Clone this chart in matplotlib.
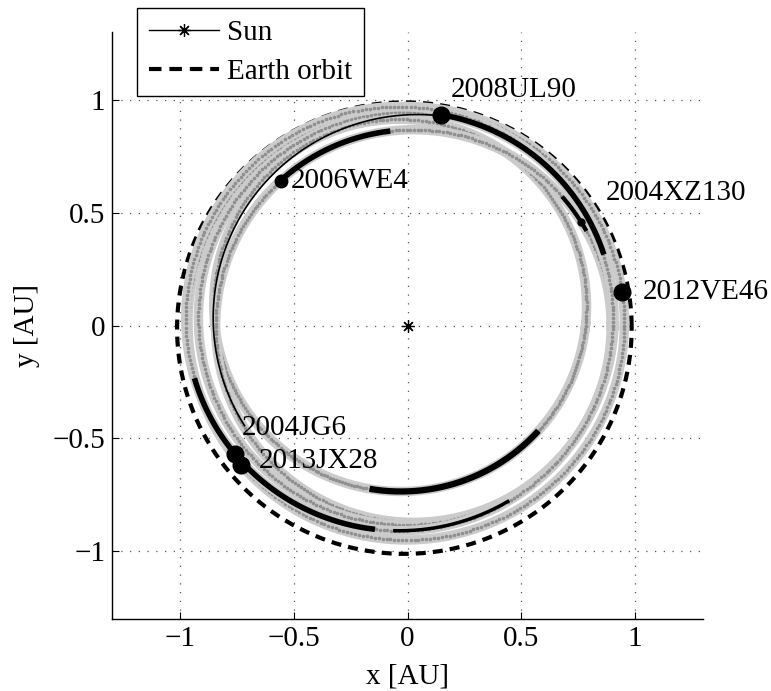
import numpy as np
import matplotlib
matplotlib.use("Agg")
import matplotlib.pyplot as plt
from matplotlib.lines import Line2D

plt.rcParams['font.family'] = ['Liberation Serif', 'DejaVu Serif']

# ---------------- data ----------------
# Earth orbit elements (semi-major axis [AU], eccentricity, perihelion longitude [deg])
earth_a, earth_e, earth_w = 1.0, 0.018, 40.0

# tracks (orbital elements); track_grey marks which are drawn as grey dotted bands
track_a = [0.825, 0.870, 0.915, 0.960, 0.940, 0.899]
track_e = [0.115, 0.030, 0.035, 0.012, 0.050, 0.063]
track_w = [-70.0, 175.0, -80.0, -60.0, -40.0, -140.0]
track_grey = [True, True, True, True, True, False]

# black segments on the tracks (true longitude range, deg)
seg_track = [1, 0, 2, 5, 4, 4, 1]
seg_start = [95, -103, 20, 81, 194, 266, 28]
seg_end = [131, -39, 81, 212, 261, 300, 40]
seg_width = [4.0, 4.5, 4.0, 1.2, 4.0, 2.5, 3.0]

# asteroid positions
names = ['2008UL90', '2006WE4', '2004XZ130', '2012VE46', '2004JG6', '2013JX28']
dot_track = [2, 1, 1, 3, 4, 3]
dot_theta = [81, 131, 31, 9, 217, 220]
dot_size = [12, 9, 5, 12, 12, 12]
label_x = [0.19, -0.515, 0.87, 1.035, -0.73, -0.655]
label_y = [1.045, 0.64, 0.585, 0.15, -0.455, -0.60]

ticks = [-1, -0.5, 0, 0.5, 1]
tick_labels = ['\u22121', '\u22120.5', '0', '0.5', '1']

FS = 21


def orbit_xy(a, e, w, th):
    t = np.radians(th)
    r = a * (1 - e ** 2) / (1 + e * np.cos(t - np.radians(w)))
    return r * np.cos(t), r * np.sin(t)


# ---------------- figure ----------------
fig = plt.figure(figsize=(7.71, 6.91), dpi=100)
ax = fig.add_axes([112 / 771, 72 / 691, 591 / 771, 587 / 691])

ax.set_xlim(-1.3, 1.3)
ax.set_ylim(-1.3, 1.3)
ax.set_xticks(ticks)
ax.set_xticklabels(tick_labels)
ax.set_yticks(ticks)
ax.set_yticklabels(tick_labels)
ax.tick_params(direction='in', length=5, width=0.8, labelsize=FS, pad=5,
               top=False, right=False)
for s in ['top', 'right']:
    ax.spines[s].set_visible(False)
for s in ['left', 'bottom']:
    ax.spines[s].set_linewidth(1.0)
ax.grid(True, linestyle=(0, (1, 6)), color='#555555', linewidth=0.9)
ax.set_axisbelow(True)

ax.set_xlabel('x [AU]', fontsize=FS, labelpad=8)
ax.set_ylabel('y [AU]', fontsize=FS, labelpad=9)

th_full = np.linspace(0, 360, 721)

# Earth orbit
ex, ey = orbit_xy(earth_a, earth_e, earth_w, th_full)
ax.plot(ex, ey, color='black', lw=3, linestyle=(0, (2.4, 1.7)), zorder=2)

# grey tracks
th_dots = np.linspace(0, 360, 340)
for a, e, w, g in zip(track_a, track_e, track_w, track_grey):
    if not g:
        continue
    gx, gy = orbit_xy(a, e, w, th_full)
    ax.plot(gx, gy, color='#cbcbcb', lw=6.8, zorder=3)
    dx, dy = orbit_xy(a, e, w, th_dots)
    ax.plot(dx, dy, linestyle='none', marker='o', markersize=2.6,
            markerfacecolor='#8f8f8f', markeredgewidth=0, zorder=3)

# black segments
for ti, s0, s1, lw in zip(seg_track, seg_start, seg_end, seg_width):
    th = np.linspace(s0, s1, 200)
    bx, by = orbit_xy(track_a[ti], track_e[ti], track_w[ti], th)
    ax.plot(bx, by, color='black', lw=lw, solid_capstyle='butt', zorder=4)

# asteroid dots and labels
for name, ti, th, ms, lx, ly in zip(names, dot_track, dot_theta, dot_size,
                                     label_x, label_y):
    px, py = orbit_xy(track_a[ti], track_e[ti], track_w[ti], np.array([th]))
    ax.plot(px, py, marker='o', color='black', markersize=ms, zorder=5)
    ax.text(lx, ly, name, fontsize=FS, ha='left', va='center', zorder=6)

# Sun
ax.plot([0], [0], color='black', marker=(8, 2, 0), markersize=9,
        markeredgewidth=0.9, lw=1, zorder=5)

handles = [
    Line2D([0], [0], color='black', lw=1, marker=(8, 2, 0), markersize=9,
           markeredgewidth=0.9),
    Line2D([0], [0], color='black', lw=3, linestyle=(0, (3.0, 1.9))),
]
leg = fig.legend(handles, ['Sun', 'Earth orbit'], loc='upper left',
                 bbox_to_anchor=(137 / 771, 1 - 8 / 691), fontsize=FS,
                 frameon=True, fancybox=False, framealpha=1, edgecolor='black',
                 handlelength=2.4, handletextpad=0.3, borderpad=0.4,
                 labelspacing=0.42, borderaxespad=0)
leg.get_frame().set_linewidth(1.0)

fig.savefig('out.png', dpi=100)
